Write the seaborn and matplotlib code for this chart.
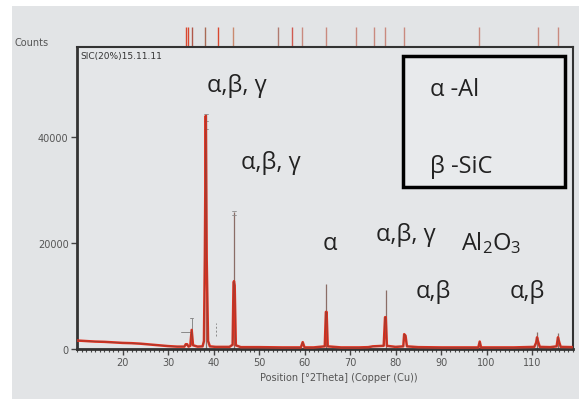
import matplotlib
matplotlib.use("Agg")
import matplotlib.pyplot as plt
from matplotlib.patches import Rectangle
from matplotlib.ticker import MultipleLocator, FixedLocator
import seaborn as sns
import pandas as pd

# ---- data ----
two_theta = [10, 12, 14, 16, 18, 20, 22, 24, 26, 28, 30, 32, 33.6, 33.9, 34.2, 34.5,
             34.9, 35.2, 35.5, 36.5, 37.6, 37.9, 38.1, 38.3, 38.5, 38.8, 39.2, 40.5,
             43.5, 44.2, 44.4, 44.5, 44.65, 44.9, 46, 50, 55, 59.2, 59.6, 60.0, 62,
             64.45, 64.7, 64.85, 65.1, 68, 72, 74, 75, 77.4, 77.7, 77.85, 78.1, 80,
             81.7, 81.9, 82.2, 82.5, 85, 90, 95, 98.2, 98.5, 98.8, 102, 106, 110.5,
             110.9, 111.1, 111.3, 111.7, 114, 115.4, 115.7, 116.0, 116.3, 119]
counts = [1600, 1500, 1400, 1350, 1250, 1150, 1100, 1000, 850, 700, 550, 450, 450, 900, 900, 450,
          600, 3600, 700, 450, 500, 1500, 17500, 44000, 17000, 1500, 500, 400,
          400, 800, 12500, 12800, 12000, 700, 350, 350, 300, 300, 1300, 300, 300,
          500, 7000, 7000, 500, 300, 300, 350, 500, 600, 6000, 6000, 600, 400,
          500, 2800, 2500, 500, 350, 300, 300, 300, 1400, 300, 300, 300, 400,
          1200, 2200, 1500, 400, 350, 500, 2200, 1200, 400, 350]

peak_pos = [38.3, 44.5, 64.8, 77.8, 111.1, 115.7]
peak_max = [44300, 25900, 12300, 11200, 3300, 3000]

ref_pos = [33.9, 34.4, 35.2, 38.1, 41.0, 44.3, 54.2, 57.2, 59.5, 64.7,
           71.3, 75.2, 77.6, 81.9, 98.4, 111.2, 115.8]
ref_col = ["#d9472f", "#d9472f", "#b0584a", "#a86a55", "#d9472f", "#c98a6f", "#b07a70", "#d05a50",
           "#c98a7f", "#c98a7f", "#c98a7f", "#c98a7f", "#c98a7f", "#c98a7f", "#c98a7f",
           "#c98a7f", "#c98a7f"]

x_ticks = [20, 30, 40, 50, 60, 70, 80, 90, 100, 110]
y_ticks = [0, 20000, 40000]

sns.set_theme(style="white")
plt.rcParams["font.family"] = ["DejaVu Sans"]
plt.rcParams["mathtext.default"] = "regular"

W, H = 579, 402
fig = plt.figure(figsize=(W / 100, H / 100), dpi=100)
fig.patch.set_facecolor("white")
fig.patches.append(Rectangle((12 / W, 2 / H), 1 - 12 / W, (400 - 7) / H,
                             transform=fig.transFigure, facecolor="#e2e4e6",
                             edgecolor="none", zorder=-5))

ax = fig.add_axes([77 / W, (H - 350) / H, (573 - 77) / W, (350 - 48) / H])
ax.set_facecolor("#e4e6e8")

df = pd.DataFrame({"two_theta": two_theta, "counts": counts})
ax.vlines(peak_pos, 0, peak_max, colors="#8a6d66", lw=0.9, zorder=2)
sns.lineplot(data=df, x="two_theta", y="counts", ax=ax, color="#e0301e", lw=1.8,
             estimator=None, sort=False, zorder=3)
sns.lineplot(data=df, x="two_theta", y="counts", ax=ax, color="#5a4a48", lw=0.5,
             estimator=None, sort=False, alpha=0.6, zorder=4)

# small peak markers
mk = "#8a8a8a"
ax.plot([35.2, 35.2], [3600, 5800], color=mk, lw=0.7)
ax.plot([34.8, 35.6], [5800, 5800], color=mk, lw=0.7)
ax.plot([32.8, 35.2], [3300, 3300], color=mk, lw=0.7)
ax.plot([40.5, 40.5], [2500, 5000], color=mk, lw=0.7, ls=(0, (2, 2)))
for yy in [44300, 43000, 41500]:
    ax.plot([37.9, 38.7], [yy, yy], color=mk, lw=0.6)
for yy in [26000, 25300]:
    ax.plot([44.1, 44.9], [yy, yy], color=mk, lw=0.6)

ax.set_xlim(10, 119)
ax.set_ylim(0, 57000)
ax.xaxis.set_major_locator(FixedLocator(x_ticks))
ax.xaxis.set_minor_locator(MultipleLocator(1))
ax.yaxis.set_major_locator(FixedLocator(y_ticks))
ax.set_xticklabels([str(t) for t in x_ticks])
ax.set_yticklabels([str(t) for t in y_ticks])
ax.tick_params(axis="both", which="major", direction="out", length=4, width=1,
               color="#444", labelsize=7, labelcolor="#555", pad=2,
               bottom=True, left=True)
ax.tick_params(axis="x", which="minor", direction="out", length=2.5, width=0.8,
               color="#444", bottom=True)
ax.set_xlabel("")
ax.set_ylabel("")
for s in ["left", "bottom"]:
    ax.spines[s].set_color("#333")
    ax.spines[s].set_linewidth(2)
for s in ["top", "right"]:
    ax.spines[s].set_color("#333")
    ax.spines[s].set_linewidth(1.5)

# reference ticks above the plot
ax.vlines(ref_pos, 1.0, 1.066, colors=ref_col, lw=1.0,
          transform=ax.get_xaxis_transform(), clip_on=False)

def ftxt(x, y, s, **kw):
    fig.text(x / W, 1 - y / H, s, **kw)

ftxt(339, 378, "Position [\u00b02Theta] (Copper (Cu))", fontsize=7, color="#555",
     ha="center", va="center")
ftxt(15, 43, "Counts", fontsize=7, color="#555", ha="left", va="center")
ftxt(80, 56, "SIC(20%)15.11.11", fontsize=6.5, color="#333", ha="left", va="center")

lab = dict(family=["Open Sans", "DejaVu Sans"], color="#222", fontsize=17,
           ha="center", va="center", zorder=6)
ftxt(237, 86, "\u03b1,\u03b2, \u03b3", **lab)
ftxt(271, 163, "\u03b1,\u03b2, \u03b3", **lab)
ftxt(330, 244, "\u03b1", **lab)
ftxt(406, 235, "\u03b1,\u03b2, \u03b3", **lab)
ftxt(491, 243, "Al$_2$O$_3$", **lab)
ftxt(433, 292, "\u03b1,\u03b2", **lab)
ftxt(527, 292, "\u03b1,\u03b2", **lab)

# legend box
fig.patches.append(Rectangle((403 / W, 1 - 188 / H), (565 - 403) / W, (188 - 57) / H,
                             transform=fig.transFigure, facecolor="#e8eaec",
                             edgecolor="black", lw=2.5, zorder=5))
ftxt(430, 90, "\u03b1 -Al", family=["Open Sans", "DejaVu Sans"], color="#222",
     fontsize=17, ha="left", va="center", zorder=6)
ftxt(430, 167, "\u03b2 -SiC", family=["Open Sans", "DejaVu Sans"], color="#222",
     fontsize=17, ha="left", va="center", zorder=6)

fig.savefig("out.png", dpi=100)
